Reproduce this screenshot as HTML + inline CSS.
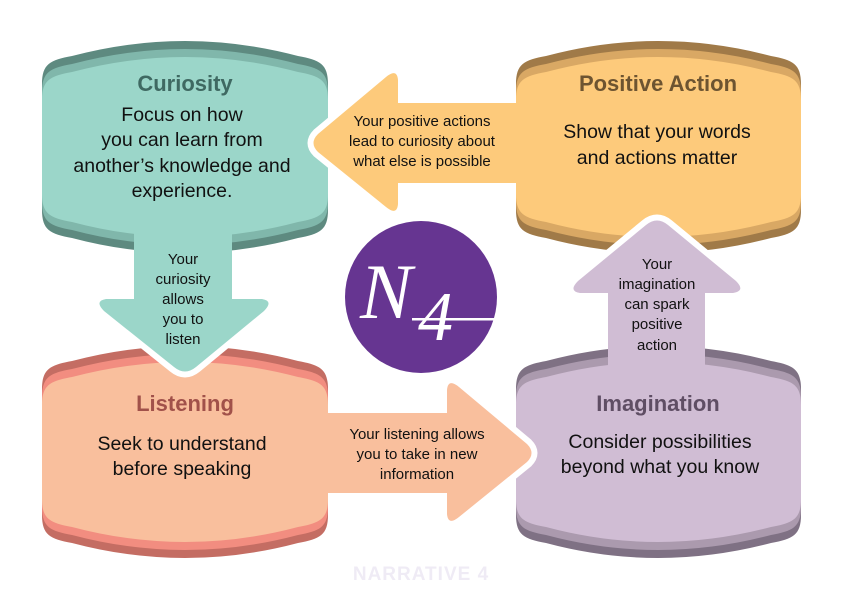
<!DOCTYPE html>
<html><head><meta charset="utf-8"><style>
html,body{margin:0;padding:0;background:#fff;}
svg{display:block;font-family:"Liberation Sans",Arial,sans-serif;}
</style></head><body>
<svg width="842" height="596" viewBox="0 0 842 596" xmlns="http://www.w3.org/2000/svg">
<defs>
<clipPath id="cD"><rect x="0" y="257" width="842" height="400"/></clipPath>
<clipPath id="cL"><rect x="0" y="0" width="512" height="596"/></clipPath>
<clipPath id="cR"><rect x="332" y="0" width="600" height="596"/></clipPath>
<clipPath id="cU"><rect x="0" y="0" width="842" height="343"/></clipPath>
</defs>

<!-- Curiosity box -->
<g>
<path fill="#5e8a80" d="M42,84 C42,64 50,60 72,56 Q185,26 298,56 C320,60 328,64 328,84 L328,210 C328,230 320,234 298,238 Q185,268 72,238 C50,234 42,230 42,210 Z"/>
<path fill="#80b7ab" d="M42,92 C42,72 50,68 72,64 Q185,34 298,64 C320,68 328,72 328,92 L328,202 C328,222 320,226 298,230 Q185,260 72,230 C50,226 42,222 42,202 Z"/>
<path fill="#9bd6c9" d="M42,100 C42,80 50,76 72,72 Q185,42 298,72 C320,76 328,80 328,100 L328,194 C328,214 320,218 298,222 Q185,252 72,222 C50,218 42,214 42,194 Z"/>
</g>
<!-- Positive box -->
<g>
<path fill="#a07a48" d="M516,84 C516,64 524,60 546,56 Q658,26 771,56 C793,60 801,64 801,84 L801,210 C801,230 793,234 771,238 Q658,268 546,238 C524,234 516,230 516,210 Z"/>
<path fill="#d9a864" d="M516,92 C516,72 524,68 546,64 Q658,34 771,64 C793,68 801,72 801,92 L801,202 C801,222 793,226 771,230 Q658,260 546,230 C524,226 516,222 516,202 Z"/>
<path fill="#fdca7b" d="M516,100 C516,80 524,76 546,72 Q658,42 771,72 C793,76 801,80 801,100 L801,194 C801,214 793,218 771,222 Q658,252 546,222 C524,218 516,214 516,194 Z"/>
</g>
<!-- Listening box -->
<g>
<path fill="#c46d63" d="M42,389 C42,369 50,365 72,361 Q185,331 298,361 C320,365 328,369 328,389 L328,515 C328,535 320,539 298,543 Q185,573 72,543 C50,539 42,535 42,515 Z"/>
<path fill="#f28d80" d="M42,397 C42,377 50,373 72,369 Q185,339 298,369 C320,373 328,377 328,397 L328,507 C328,527 320,531 298,535 Q185,565 72,535 C50,531 42,527 42,507 Z"/>
<path fill="#f9bf9d" d="M42,405 C42,385 50,381 72,377 Q185,347 298,377 C320,381 328,385 328,405 L328,499 C328,519 320,523 298,527 Q185,557 72,527 C50,523 42,519 42,499 Z"/>
</g>
<!-- Imagination box -->
<g>
<path fill="#7f7184" d="M516,389 C516,369 524,365 546,361 Q658,331 771,361 C793,365 801,369 801,389 L801,515 C801,535 793,539 771,543 Q658,573 546,543 C524,539 516,535 516,515 Z"/>
<path fill="#ab9aae" d="M516,397 C516,377 524,373 546,369 Q658,339 771,369 C793,373 801,377 801,397 L801,507 C801,527 793,531 771,535 Q658,565 546,535 C524,531 516,527 516,507 Z"/>
<path fill="#d0bdd4" d="M516,405 C516,385 524,381 546,377 Q658,347 771,377 C793,381 801,385 801,405 L801,499 C801,519 793,523 771,527 Q658,557 546,527 C524,523 516,519 516,499 Z"/>
</g>

<!-- Arrows: white outline (clipped) -->
<g stroke="#fff" stroke-width="12" stroke-linejoin="round" fill="#fff">
<path clip-path="url(#cD)" d="M134,215 L232,215 L232,299 L262,299 Q274,301 264,311 L196,367 Q185,376 174,367 L104,311 Q94,301 106,299 L134,299 Z"/>
<path clip-path="url(#cL)" d="M530,103 L398,103 L398,80 Q397,68 386,77 L318,134 Q309,143 318,152 L386,207 Q397,216 398,204 L398,183 L530,183 Z"/>
<path clip-path="url(#cR)" d="M315,413 L447,413 L447,390 Q448,378 459,387 L527,444 Q536,453 527,462 L459,517 Q448,526 447,514 L447,493 L315,493 Z"/>
<path clip-path="url(#cU)" d="M608,385 L705,385 L705,293 L733,293 Q746,291 736,281 L668,225 Q657,216 646,225 L578,281 Q568,291 580,293 L608,293 Z"/>
</g>
<!-- Arrow fills -->
<path fill="#9bd6c9" d="M134,215 L232,215 L232,299 L262,299 Q274,301 264,311 L196,367 Q185,376 174,367 L104,311 Q94,301 106,299 L134,299 Z"/>
<path fill="#fdca7b" d="M530,103 L398,103 L398,80 Q397,68 386,77 L318,134 Q309,143 318,152 L386,207 Q397,216 398,204 L398,183 L530,183 Z"/>
<path fill="#f9bf9d" d="M315,413 L447,413 L447,390 Q448,378 459,387 L527,444 Q536,453 527,462 L459,517 Q448,526 447,514 L447,493 L315,493 Z"/>
<path fill="#d0bdd4" d="M608,385 L705,385 L705,293 L733,293 Q746,291 736,281 L668,225 Q657,216 646,225 L578,281 Q568,291 580,293 L608,293 Z"/>

<!-- Titles -->
<g font-weight="bold" font-size="22" text-anchor="middle">
<text x="185" y="91" fill="#3f6962">Curiosity</text>
<text x="658" y="91" fill="#6d5431">Positive Action</text>
<text x="185" y="411" fill="#a1514a">Listening</text>
<text x="658" y="411" fill="#5f4e64">Imagination</text>
</g>
<!-- Body text -->
<g font-size="19.5" text-anchor="middle" fill="#111">
<text x="182" y="121">Focus on how</text>
<text x="182" y="146">you can learn from</text>
<text x="182" y="172">another’s knowledge and</text>
<text x="182" y="197">experience.</text>
<text x="657" y="138">Show that your words</text>
<text x="657" y="164">and actions matter</text>
<text x="182" y="450">Seek to understand</text>
<text x="182" y="475">before speaking</text>
<text x="660" y="448">Consider possibilities</text>
<text x="660" y="473">beyond what you know</text>
</g>
<!-- Arrow text -->
<g font-size="15" text-anchor="middle" fill="#111">
<text x="183" y="264">Your</text>
<text x="183" y="284">curiosity</text>
<text x="183" y="304">allows</text>
<text x="183" y="324">you to</text>
<text x="183" y="344">listen</text>
<text x="422" y="126">Your positive actions</text>
<text x="422" y="146">lead to curiosity about</text>
<text x="422" y="166">what else is possible</text>
<text x="417" y="439">Your listening allows</text>
<text x="417" y="459">you to take in new</text>
<text x="417" y="479">information</text>
<text x="657" y="269">Your</text>
<text x="657" y="289">imagination</text>
<text x="657" y="309">can spark</text>
<text x="657" y="329">positive</text>
<text x="657" y="350">action</text>
</g>

<!-- Logo -->
<circle cx="421" cy="297" r="76" fill="#663591"/>
<g fill="#fff" font-family="Liberation Serif, serif" font-style="italic">
<text x="360" y="318" font-size="78">N</text>
<text x="418" y="340" font-size="70">4</text>
</g>
<rect x="412" y="318" width="84" height="2.5" fill="#fff"/>

<text x="421" y="580" text-anchor="middle" font-size="19" font-weight="bold" fill="#efebf5" letter-spacing="1">NARRATIVE 4</text>
</svg>
</body></html>
